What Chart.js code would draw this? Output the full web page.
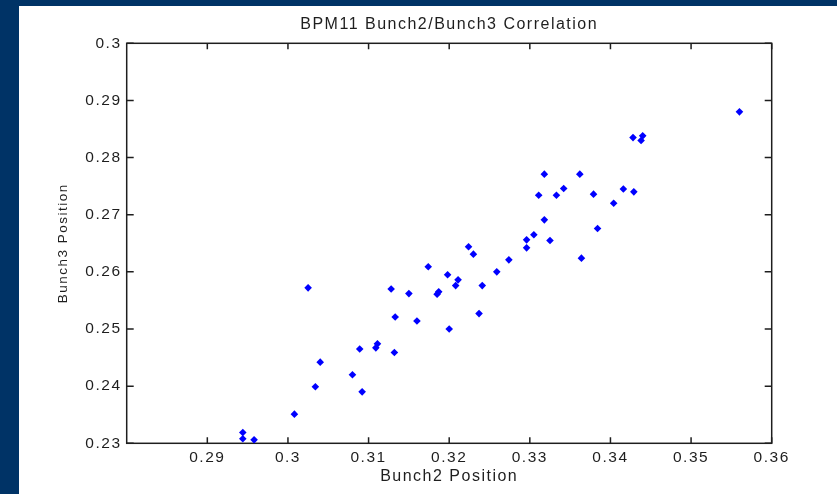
<!DOCTYPE html>
<html>
<head>
<meta charset="utf-8">
<script src="https://cdn.jsdelivr.net/npm/chart.js@4/dist/chart.umd.min.js"></script>
<style>
  html, body { margin: 0; padding: 0; background: #003366; overflow: hidden; }
  #panel { position: absolute; left: 19px; top: 6px; width: 818px; height: 488px; background: #fff; }
  #corr { display: block; }
</style>
</head>
<body>
<div id="panel"><canvas id="corr" width="818" height="488"></canvas></div>
<script>
// BPM11 bunch positions, one entry per shot
var bunch2 = [
  0.2944, 0.2944, 0.2958, 0.3008, 0.3034, 0.3092, 0.3025, 0.3128, 0.3150, 0.3133,
  0.3160, 0.3089, 0.3111, 0.3109, 0.3132, 0.3040, 0.3080, 0.3224, 0.3230, 0.3174,
  0.3198, 0.3211, 0.3208, 0.3241, 0.3187, 0.3185, 0.3259, 0.3274, 0.3296, 0.3305,
  0.3296, 0.3237, 0.3200, 0.3318, 0.3362, 0.3342, 0.3311, 0.3333, 0.3379, 0.3416,
  0.3429, 0.3404, 0.3318, 0.3384, 0.3325, 0.3364, 0.3560, 0.3428, 0.3440, 0.3438
];
var bunch3 = [
  0.2319, 0.2308, 0.2306, 0.2351, 0.2399, 0.2390, 0.2572, 0.2570, 0.2562, 0.2521,
  0.2514, 0.2465, 0.2474, 0.2467, 0.2459, 0.2442, 0.2420, 0.2644, 0.2631, 0.2609,
  0.2595, 0.2586, 0.2576, 0.2576, 0.2565, 0.2561, 0.2600, 0.2621, 0.2656, 0.2665,
  0.2642, 0.2527, 0.2500, 0.2771, 0.2771, 0.2746, 0.2734, 0.2734, 0.2736, 0.2745,
  0.2740, 0.2720, 0.2691, 0.2676, 0.2655, 0.2624, 0.2880, 0.2835, 0.2838, 0.2830
];
var xTicks = [0.29, 0.30, 0.31, 0.32, 0.33, 0.34, 0.35, 0.36];
var yTicks = [0.23, 0.24, 0.25, 0.26, 0.27, 0.28, 0.29, 0.30];

var points = bunch2.map(function (v, i) { return { x: v, y: bunch3[i] }; });
var ink = '#1e1e1e';
var family = '"Liberation Sans", Arial, sans-serif';

function fmt(v) { return String(Number(v.toFixed(2))); }
function fixTicks(list) {
  return function (scale) { scale.ticks = list.map(function (v) { return { value: v }; }); };
}

// wide matlab-style lettering
var spacing = {
  id: 'spacing',
  beforeDraw: function (chart) { chart.ctx.letterSpacing = '1.5px'; }
};

// box around the axes with inward ticks on all four sides
var frame = {
  id: 'frame',
  beforeDatasetsDraw: function (chart) {
    var ctx = chart.ctx, a = chart.chartArea, x = chart.scales.x, y = chart.scales.y;
    ctx.save();
    ctx.strokeStyle = ink;
    ctx.lineWidth = 1.5;
    ctx.strokeRect(a.left, a.top, a.right - a.left, a.bottom - a.top);
    ctx.beginPath();
    x.ticks.forEach(function (t) {
      var px = x.getPixelForValue(t.value);
      ctx.moveTo(px, a.bottom); ctx.lineTo(px, a.bottom - 6);
      ctx.moveTo(px, a.top); ctx.lineTo(px, a.top + 6);
    });
    y.ticks.forEach(function (t) {
      var py = y.getPixelForValue(t.value);
      ctx.moveTo(a.left, py); ctx.lineTo(a.left + 7, py);
      ctx.moveTo(a.right, py); ctx.lineTo(a.right - 7, py);
    });
    ctx.stroke();
    ctx.restore();
  }
};

new Chart(document.getElementById('corr').getContext('2d'), {
  type: 'scatter',
  data: {
    datasets: [{
      data: points,
      backgroundColor: '#0000ff',
      borderWidth: 0,
      pointStyle: 'rectRot',
      pointRadius: 3.8,
      pointHoverRadius: 3.8
    }]
  },
  plugins: [spacing, frame],
  options: {
    responsive: false,
    animation: false,
    layout: { padding: { left: 0, top: 0, right: 65.3, bottom: 0 } },
    plugins: {
      legend: { display: false },
      tooltip: { enabled: false },
      title: {
        display: true,
        fullSize: false,
        text: 'BPM11 Bunch2/Bunch3 Correlation',
        color: ink,
        font: { family: family, size: 16, weight: 'normal', lineHeight: 1.2 },
        padding: { top: 9.4, bottom: 8.7 }
      }
    },
    scales: {
      x: {
        type: 'linear',
        min: 0.28,
        max: 0.36,
        afterBuildTicks: fixTicks(xTicks),
        afterFit: function (s) { s.height = 50.7; },
        grid: { display: false, drawTicks: false },
        border: { display: false },
        ticks: {
          color: ink,
          padding: 4.9,
          maxRotation: 0,
          font: { family: family, size: 15.5, lineHeight: 1.2 },
          callback: function (v) { return fmt(v); }
        },
        title: {
          display: true,
          text: 'Bunch2 Position',
          color: ink,
          font: { family: family, size: 16, lineHeight: 1.2 },
          padding: { top: 0, bottom: 7.4 }
        }
      },
      y: {
        type: 'linear',
        min: 0.23,
        max: 0.30,
        afterBuildTicks: fixTicks(yTicks),
        afterFit: function (s) { s.width = 107.7; },
        grid: { display: false, drawTicks: false },
        border: { display: false },
        ticks: {
          color: ink,
          padding: 5.2,
          font: { family: family, size: 15.5, lineHeight: 1.2 },
          callback: function (v) { return fmt(v); }
        },
        title: {
          display: true,
          text: 'Bunch3 Position',
          color: ink,
          font: { family: family, size: 13.5, lineHeight: 1.2 },
          padding: { top: 35.9, bottom: 0 }
        }
      }
    }
  }
});
</script>
</body>
</html>
